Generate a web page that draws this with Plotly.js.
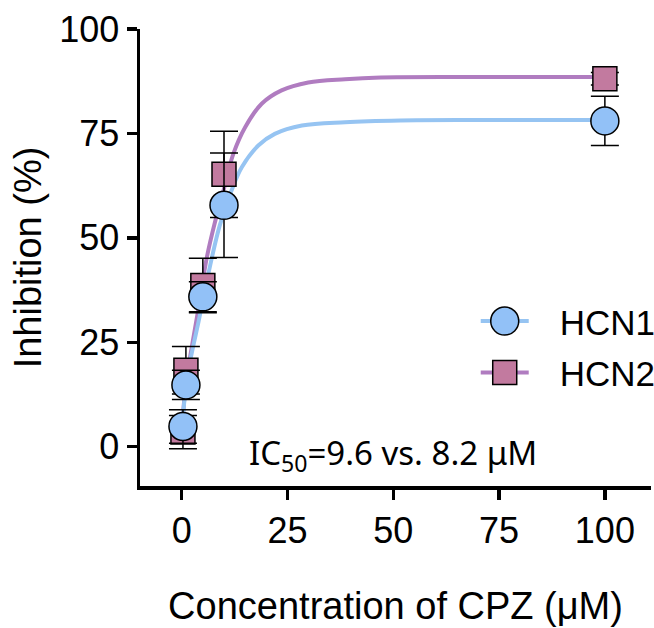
<!DOCTYPE html>
<html>
<head>
<meta charset="utf-8">
<script src="https://cdn.plot.ly/plotly-3.0.1.min.js"></script>
<style>
  html, body { margin: 0; padding: 0; background: #fff; }
  #plot { width: 654px; height: 628px; }
</style>
</head>
<body>
<div id="plot"></div>
<script>
// Measured data (concentration in µM, inhibition in %)
var conc = [0.3, 1, 5, 10, 100];
var hcn1Mean = [4.85, 14.8, 35.9, 57.8, 78.0];
var hcn1Sd = [4.0, 3.5, 3.6, 12.5, 5.9];
var hcn2Mean = [3.5, 18.3, 38.6, 65.2, 88.1];
var hcn2Sd = [4.0, 5.7, 6.5, 10.3, 1.5];

// Fitted curves
var fit1X = [0.1, 0.4, 1, 2, 4, 5, 7.1, 9, 11.8, 14.2, 18.1, 22, 28.4, 38.6, 51.6, 70, 100];
var fit1Y = [2, 8.5, 14, 20.5, 30, 35, 45.1, 53, 61.4, 66.9, 72.1, 74.9, 76.9, 77.7, 78.1, 78.2, 78.2];
var fit2X = [0.1, 0.4, 1, 2, 3.9, 5.9, 7.8, 9.7, 12.2, 15.0, 18.9, 23.6, 29.9, 38.6, 47, 70, 100];
var fit2Y = [2, 8.8, 15, 21.6, 32.7, 45.1, 53.5, 60.6, 70.1, 76.5, 82.1, 85.3, 87.2, 88.0, 88.4, 88.5, 88.5];

var seriesNames = ['HCN1', 'HCN2'];
var xTicks = [0, 25, 50, 75, 100];
var yTicks = [0, 25, 50, 75, 100];

var blueFill = '#92c1f7', blueLine = '#96c4f2';
var mauveFill = '#c27a9f', purpleLine = '#b07cc0';

var traces = [
  {x: fit2X, y: fit2Y, mode: 'lines', line: {color: purpleLine, width: 4, shape: 'spline', smoothing: 1}, showlegend: false, hoverinfo: 'skip'},
  {x: fit1X, y: fit1Y, mode: 'lines', line: {color: blueLine, width: 4, shape: 'spline', smoothing: 1}, showlegend: false, hoverinfo: 'skip'},
  {x: conc, y: hcn2Mean, mode: 'markers', showlegend: false,
   marker: {symbol: 'square', size: 24, color: mauveFill, line: {color: '#000', width: 1.5}},
   error_y: {type: 'data', array: hcn2Sd, visible: true, color: '#000', thickness: 1.5, width: 14}},
  {x: conc, y: hcn1Mean, mode: 'markers', showlegend: false,
   marker: {symbol: 'circle', size: 28, color: blueFill, line: {color: '#000', width: 1.5}},
   error_y: {type: 'data', array: hcn1Sd, visible: true, color: '#000', thickness: 1.5, width: 14}},
  // legend entries
  {x: [null], y: [null], name: seriesNames[0], mode: 'lines+markers', legendrank: 1, legendgroup: 'a',
   line: {color: blueLine, width: 4}, marker: {symbol: 'circle', size: 28, color: blueFill, line: {color: '#000', width: 1.5}}},
  {x: [null], y: [null], name: seriesNames[1], mode: 'lines+markers', legendrank: 2, legendgroup: 'b',
   line: {color: purpleLine, width: 4}, marker: {symbol: 'square', size: 24, color: mauveFill, line: {color: '#000', width: 1.5}}}
];

var font = 'Liberation Sans, Arial, sans-serif';
var layout = {
  width: 654, height: 628,
  margin: {l: 140, r: 3, t: 29, b: 142},
  paper_bgcolor: '#fff', plot_bgcolor: '#fff',
  font: {family: font, color: '#000', size: 36},
  showlegend: true,
  legend: {x: 0.657, y: 0.425, xanchor: 'left', yanchor: 'top', bgcolor: 'rgba(0,0,0,0)',
           font: {family: font, size: 35, color: '#000'}, itemwidth: 48, tracegroupgap: 3},
  xaxis: {range: [-9.85, 110.9], tickvals: xTicks, ticktext: xTicks.map(String), showgrid: false, zeroline: false,
          showline: true, linewidth: 3.5, linecolor: '#000', ticks: 'outside', ticklen: 10, tickwidth: 3.5, tickcolor: '#000',
          tickfont: {family: font, size: 36},
          title: {text: 'Concentration of CPZ (μM)', font: {family: font, size: 38}, standoff: 43}},
  yaxis: {range: [-9.4, 100], tickvals: yTicks, ticktext: yTicks.map(String), showgrid: false, zeroline: false,
          showline: true, linewidth: 3.5, linecolor: '#000', ticks: 'outside', ticklen: 10, tickwidth: 3.5, tickcolor: '#000',
          tickfont: {family: font, size: 36},
          title: {text: 'Inhibition (%)', font: {family: font, size: 38}, standoff: 7}},
  annotations: [{
    xref: 'paper', yref: 'paper', x: 0.495, y: 0.01, xanchor: 'center', yanchor: 'bottom', showarrow: false,
    text: 'IC<sub>50</sub>=9.6 vs. 8.2 μM', font: {family: 'Noto Sans, Open Sans, sans-serif', size: 33, color: '#000'}
  }]
};

var gd = document.getElementById('plot');
Plotly.newPlot(gd, traces, layout, {displayModeBar: false, staticPlot: true}).then(function () {
  gd.querySelectorAll('.legend [clip-path]').forEach(function (el) { el.removeAttribute('clip-path'); });
  var items = gd.querySelectorAll('.legend .traces');
  items.forEach(function (g) {
    var d = g.__data__ && g.__data__[0] && g.__data__[0].trace;
    var sz = d && d.marker ? d.marker.size : 16;
    var s = sz / 16;
    g.querySelectorAll('path.scatterpts').forEach(function (p) {
      var t = p.getAttribute('transform') || '';
      p.setAttribute('transform', t + ' scale(' + s + ')');
      p.style.vectorEffect = 'non-scaling-stroke';
    });
    var txt = g.querySelector('text.legendtext');
    if (txt) txt.setAttribute('x', 84);
  });
});
</script>
</body>
</html>
